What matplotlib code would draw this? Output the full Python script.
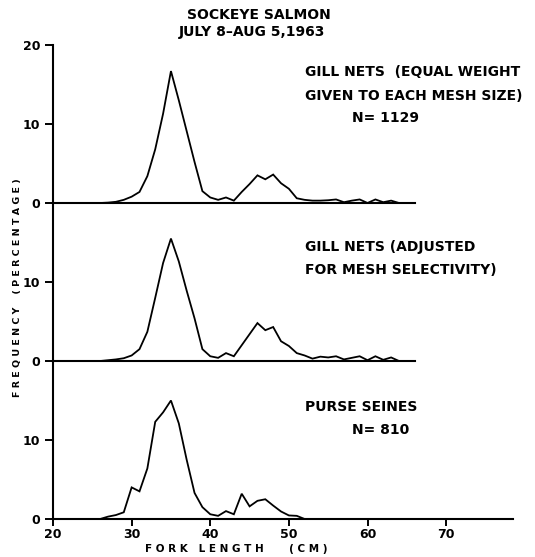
import matplotlib
matplotlib.use("Agg")
import matplotlib.pyplot as plt

# ---- data (fork length in cm, frequency in %) ----
length_cm = list(range(26, 65))
gill_equal = [0, 0.05, 0.15, 0.4, 0.8, 1.4, 3.4, 6.8, 11.3, 16.7,
              13.0, 9.1, 5.2, 1.5, 0.7, 0.4, 0.7, 0.3, 1.4, 2.4,
              3.5, 3.0, 3.6, 2.5, 1.8, 0.6, 0.4, 0.3, 0.3, 0.35,
              0.45, 0.1, 0.3, 0.45, 0.0, 0.45, 0.1, 0.3, 0.0]
gill_adjusted = [0, 0.1, 0.2, 0.35, 0.7, 1.5, 3.7, 8.0, 12.4, 15.5,
                 12.6, 8.9, 5.4, 1.5, 0.6, 0.4, 1.0, 0.6, 2.0, 3.4,
                 4.8, 3.9, 4.3, 2.5, 1.9, 1.0, 0.7, 0.3, 0.55, 0.45,
                 0.6, 0.2, 0.4, 0.6, 0.1, 0.6, 0.15, 0.45, 0.0]
purse_length_cm = list(range(26, 53))
purse_seines = [0, 0.3, 0.5, 0.85, 4.0, 3.5, 6.4, 12.3, 13.5, 15.0,
                12.1, 7.5, 3.3, 1.5, 0.6, 0.4, 1.0, 0.6, 3.2, 1.6,
                2.3, 2.5, 1.7, 0.95, 0.45, 0.4, 0.0]

x_ticks = [20, 30, 40, 50, 60, 70]
title_lines = ["SOCKEYE SALMON", "JULY 8\u2013AUG 5,1963"]
label_lines = [["GILL NETS  (EQUAL WEIGHT", "GIVEN TO EACH MESH SIZE)"],
               ["GILL NETS (ADJUSTED", "FOR MESH SELECTIVITY)"],
               ["PURSE SEINES"]]
n_labels = ["N= 1129", None, "N= 810"]

plt.rcParams['font.family'] = ['DejaVu Sans']
W, H = 535, 557
fig = plt.figure(figsize=(W / 100, H / 100), dpi=100)

left = 53 / W
width = 460 / W
ph = 158 / H
bottom0 = (H - 519) / H
fs = 10
tfs = 9
lw_axis = 1.5

series = [(length_cm, gill_equal), (length_cm, gill_adjusted), (purse_length_cm, purse_seines)]
axes = []
for i in range(3):
    b = bottom0 + (2 - i) * ph
    ax = fig.add_axes([left, b, width, ph])
    axes.append(ax)
    xs, ys = series[i]
    ax.plot(xs, ys, color='black', lw=1.3, solid_joinstyle='miter')
    ax.set_xlim(20, 78.5)
    ax.set_ylim(0, 20)
    for s in ['top', 'right']:
        ax.spines[s].set_visible(False)
    ax.spines['left'].set_linewidth(lw_axis)
    ax.patch.set_alpha(0)
    if i < 2:
        ax.spines['bottom'].set_visible(False)
        ax.axhline(0, xmin=0, xmax=(66 - 20) / 58.5, color='black', lw=lw_axis, clip_on=False)
        ax.set_xticks([])
    else:
        ax.spines['bottom'].set_linewidth(lw_axis)
        ax.set_xticks(x_ticks)
        ax.set_xticklabels([str(t) for t in x_ticks], fontsize=tfs, fontweight='bold')
        ax.tick_params(axis='x', direction='out', length=5, width=1.4, pad=1.5)
    if i == 0:
        ax.set_yticks([0, 10, 20])
    else:
        ax.set_yticks([0, 10])
    ax.set_yticklabels([str(t) for t in ax.get_yticks().astype(int)], fontsize=tfs, fontweight='bold')
    ax.tick_params(axis='y', direction='out', length=6, width=1.4, pad=3)

# panel labels
label_y = [[72, 96], [247, 270], [407]]
n_y = [118, None, 430]
for i in range(3):
    for line, yy in zip(label_lines[i], label_y[i]):
        fig.text(305 / W, 1 - yy / H, line, fontsize=fs, fontweight='bold', ha='left', va='center')
    if n_labels[i]:
        fig.text(352 / W, 1 - n_y[i] / H, n_labels[i], fontsize=fs, fontweight='bold', ha='left', va='center')

# title
fig.text(259 / W, 1 - 15 / H, title_lines[0], fontsize=fs, fontweight='bold', ha='center', va='center')
fig.text(252 / W, 1 - 32 / H, title_lines[1], fontsize=fs, fontweight='bold', ha='center', va='center')

# axis labels
fig.text(236 / W, 1 - 549 / H, "F O R K   L E N G T H       ( C M )", fontsize=7.5, fontweight='bold', ha='center', va='center')
fig.text(18 / W, 1 - 288 / H, "F R E Q U E N C Y    ( P E R C E N T A G E )", fontsize=6.8, fontweight='bold',
         ha='center', va='center', rotation=90)

fig.savefig("out.png", dpi=100)
